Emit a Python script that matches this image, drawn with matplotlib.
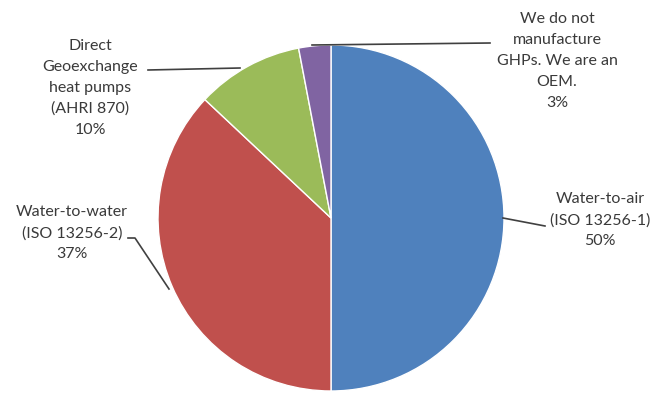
import matplotlib
matplotlib.use("Agg")
import matplotlib.pyplot as plt

# shares of respondents (%)
labels = ["Water-to-air\n(ISO 13256-1)",
          "Water-to-water\n(ISO 13256-2)",
          "Direct\nGeoexchange\nheat pumps\n(AHRI 870)",
          "We do not\nmanufacture\nGHPs. We are an\nOEM."]
values = [50, 37, 10, 3]
colors = ["#4F81BD", "#C0504D", "#9BBB59", "#8064A2"]

# label placement (pixels) and leader line points
label_pos = [(600, 220), (72, 233), (90, 88), (557, 61)]
leaders = [
    [(503, 218), (545, 226)],
    [(169, 289), (135, 238), (128, 238)],
    [(240, 68), (148, 70)],
    [(312, 45), (490, 43)],
]

W, H = 662, 394
fig = plt.figure(figsize=(W / 100, H / 100), dpi=100)
ax = fig.add_axes([0, 0, 1, 1])

ax.pie(values, colors=colors, startangle=90, counterclock=False,
       center=(331, H - 218), radius=173, frame=True,
       wedgeprops=dict(edgecolor="white", linewidth=1.0))
ax.set_xlim(0, W)
ax.set_ylim(0, H)
ax.set_aspect("equal")
ax.axis("off")

for lab, v, (x, y) in zip(labels, values, label_pos):
    ax.text(x, H - y, f"{lab}\n{v}%", ha="center", va="center",
            fontsize=11.5, family="Lato", color="#3a3a3a", linespacing=1.62)

for pts in leaders:
    xs = [p[0] for p in pts]
    ys = [H - p[1] for p in pts]
    ax.plot(xs, ys, color="#404040", lw=1.2)

fig.savefig("out.png", dpi=100)
